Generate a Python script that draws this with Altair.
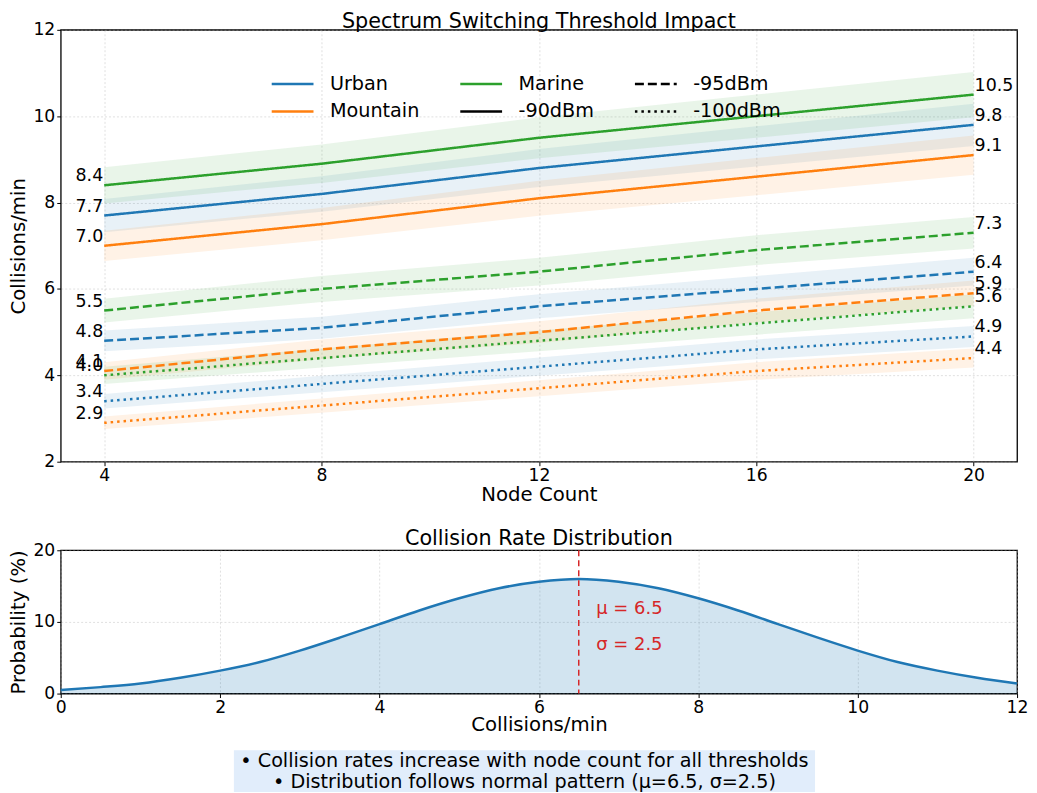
import altair as alt
import pandas as pd

# ---------------- data ----------------
nodes = [4, 8, 12, 16, 20]
environments = ["Urban", "Mountain", "Marine"]
thresholds = ["-90dBm", "-95dBm", "-100dBm"]
env_colors = ["#1f77b4", "#ff7f0e", "#2ca02c"]
threshold_dashes = [[1, 0], [9, 4], [2.5, 4]]

urban_90 = [7.7, 8.2, 8.8, 9.3, 9.8]
urban_95 = [4.8, 5.1, 5.6, 6.0, 6.4]
urban_100 = [3.4, 3.8, 4.2, 4.6, 4.9]
mountain_90 = [7.0, 7.5, 8.1, 8.6, 9.1]
mountain_95 = [4.1, 4.6, 5.0, 5.5, 5.9]
mountain_100 = [2.9, 3.3, 3.7, 4.1, 4.4]
marine_90 = [8.4, 8.9, 9.5, 10.0, 10.5]
marine_95 = [5.5, 6.0, 6.4, 6.9, 7.3]
marine_100 = [4.0, 4.4, 4.8, 5.2, 5.6]
band_fraction = 0.05  # shaded band = +/- 5 % of the value

legend_keys = ["Urban", "Mountain", "Marine", "-90dBm", "-95dBm", "-100dBm"]
legend_colors = ["#1f77b4", "#ff7f0e", "#2ca02c", "black", "black", "black"]
legend_dashes = [[1, 0], [1, 0], [1, 0], [1, 0], [9, 4], [2.5, 4]]

dist_x = [0, 0.5, 1, 1.5, 2, 2.5, 3, 3.5, 4, 4.5, 5, 5.5, 6, 6.5, 7, 7.5,
          8, 8.5, 9, 9.5, 10, 10.5, 11, 11.5, 12]
dist_y = [0.5, 0.9, 1.4, 2.2, 3.2, 4.4, 6.0, 7.8, 9.7, 11.6, 13.3, 14.7, 15.6,
          16.0, 15.6, 14.7, 13.3, 11.6, 9.7, 7.8, 6.0, 4.4, 3.2, 2.2, 1.4]
mu_value = 6.5
sigma_value = 2.5
stat_labels = ["μ = 6.5", "σ = 2.5"]
stat_label_y = [11.8, 6.8]
stat_label_x = [6.72, 6.72]

footer_lines = ["• Collision rates increase with node count for all thresholds",
                "• Distribution follows normal pattern (μ=6.5, σ=2.5)"]

FONT = "DejaVu Sans"

series = {
    ("Urban", "-90dBm"): urban_90, ("Urban", "-95dBm"): urban_95, ("Urban", "-100dBm"): urban_100,
    ("Mountain", "-90dBm"): mountain_90, ("Mountain", "-95dBm"): mountain_95, ("Mountain", "-100dBm"): mountain_100,
    ("Marine", "-90dBm"): marine_90, ("Marine", "-95dBm"): marine_95, ("Marine", "-100dBm"): marine_100,
}
rows = []
for (env, thr), vals in series.items():
    for n, v in zip(nodes, vals):
        rows.append({"env": env, "threshold": thr, "nodes": n, "value": v})
df = pd.DataFrame(rows)

# ---------------- top panel ----------------
x_top = alt.X("nodes:Q", scale=alt.Scale(domain=[3.2, 20.8], nice=False, zero=False),
              axis=alt.Axis(values=nodes, title="Node Count", format="d", labelPadding=1, titlePadding=1))
y_scale_top = alt.Scale(domain=[2, 12], nice=False, zero=False)
y_top = alt.Y("value:Q", scale=y_scale_top,
              axis=alt.Axis(values=[2, 4, 6, 8, 10, 12], title="Collisions/min"))
env_color = alt.Color("env:N", scale=alt.Scale(domain=environments, range=env_colors), legend=None)

base = alt.Chart(df)
bands = base.transform_calculate(
    lo=f"datum.value * (1 - {band_fraction})",
    hi=f"datum.value * (1 + {band_fraction})",
).mark_area(opacity=0.1).encode(
    x=x_top,
    y=alt.Y("lo:Q", scale=y_scale_top),
    y2="hi:Q",
    color=env_color,
    detail="threshold:N",
)
lines = base.mark_line(strokeWidth=2.5).encode(
    x=x_top, y=y_top, color=env_color,
    strokeDash=alt.StrokeDash("threshold:N", scale=alt.Scale(domain=thresholds, range=threshold_dashes), legend=None),
)
start_labels = base.transform_filter("datum.nodes == 4").mark_text(
    align="right", baseline="bottom", fontSize=17.5, font=FONT, color="black", dx=-1
).encode(x=x_top, y=y_top, text=alt.Text("value:Q", format=".1f"))
end_labels = base.transform_filter("datum.nodes == 20").mark_text(
    align="left", baseline="bottom", fontSize=17.5, font=FONT, color="black", dx=1
).encode(x=x_top, y=y_top, text=alt.Text("value:Q", format=".1f"))

legend_opts = dict(title=None, orient="none", legendX=221, legendY=42, columns=3,
                   symbolType="M-2,0L2,0", symbolSize=441, symbolStrokeWidth=2.5,
                   labelFontSize=19.3, labelFont=FONT, labelOffset=25.5,
                   columnPadding=35.5, rowPadding=5, labelColor="black")
legend_layer = alt.Chart(pd.DataFrame({"key": legend_keys})).transform_filter("false").mark_line(
    strokeWidth=2.5
).encode(
    x=alt.value(0), y=alt.value(0),
    color=alt.Color("key:N", scale=alt.Scale(domain=legend_keys, range=legend_colors),
                    legend=alt.Legend(**legend_opts)),
    strokeDash=alt.StrokeDash("key:N", scale=alt.Scale(domain=legend_keys, range=legend_dashes),
                              legend=alt.Legend(**legend_opts)),
)

top = alt.layer(
    alt.layer(bands, lines, start_labels, end_labels),
    legend_layer,
).resolve_scale(color="independent", strokeDash="independent").properties(
    width=961, height=434,
    title=alt.Title("Spectrum Switching Threshold Impact", offset=-12),
)

# ---------------- bottom panel ----------------
dist_df = pd.DataFrame({"x": dist_x, "p": dist_y})
x_bot = alt.X("x:Q", scale=alt.Scale(domain=[0, 12], nice=False),
              axis=alt.Axis(values=[0, 2, 4, 6, 8, 10, 12], format="d", title="Collisions/min",
                            labelPadding=1, titlePadding=-1, labelFlush=False))
y_bot = alt.Y("p:Q", scale=alt.Scale(domain=[0, 20], nice=False),
              axis=alt.Axis(values=[0, 10, 20], title="Probability (%)"))
dist_base = alt.Chart(dist_df)
dist_area = dist_base.mark_area(color="#1f77b4", opacity=0.2, interpolate="monotone").encode(x=x_bot, y=y_bot)
dist_line = dist_base.mark_line(color="#1f77b4", strokeWidth=2.5, interpolate="monotone").encode(x=x_bot, y=y_bot)
mu_rule = alt.Chart(pd.DataFrame({"mu": [mu_value]})).mark_rule(
    color="#d62728", strokeWidth=1.5, strokeDash=[6, 4]
).encode(x=alt.X("mu:Q", scale=alt.Scale(domain=[0, 12], nice=False)))
stat_text = alt.Chart(pd.DataFrame({"label": stat_labels, "x": stat_label_x, "y": stat_label_y})).mark_text(
    align="left", baseline="middle", fontSize=18, font=FONT, color="#d62728"
).encode(x=alt.X("x:Q", scale=alt.Scale(domain=[0, 12], nice=False)),
         y=alt.Y("y:Q", scale=alt.Scale(domain=[0, 20], nice=False)), text="label:N")

bottom = alt.layer(dist_area, dist_line, mu_rule, stat_text).properties(
    width=961, height=144,
    title=alt.Title("Collision Rate Distribution", offset=-9),
)

# ---------------- footer ----------------
footer_df = pd.DataFrame({"line": footer_lines, "row": [0, 1]})
footer_bg = alt.Chart(footer_df).transform_filter("datum.row == 0").mark_rect(color="#e1edfb").encode(
    x=alt.value(174), x2=alt.value(758), y=alt.value(0), y2=alt.value(42)
)
footer_text = alt.Chart(footer_df).mark_text(
    align="center", baseline="middle", fontSize=19.3, font=FONT, color="black"
).encode(
    x=alt.value(466),
    y=alt.Y("row:O", axis=None, scale=alt.Scale(paddingInner=0, paddingOuter=0)),
    text="line:N",
)
footer = alt.layer(footer_bg, footer_text).properties(
    width=961, height=42, view=alt.ViewBackground(stroke="transparent")
)

lower = alt.vconcat(bottom, footer, spacing=14)

chart = alt.vconcat(top, lower, spacing=22).properties(
    padding={"left": 0, "top": 0, "right": 0, "bottom": 0}
).configure(font=FONT).configure_view(
    stroke="black", strokeWidth=1.3
).configure_axis(
    labelFont=FONT, titleFont=FONT, labelFontSize=17.3, titleFontSize=19.8,
    titleFontWeight="normal", labelColor="black", titleColor="black",
    domain=False, tickColor="black", tickSize=4, labelPadding=2, titlePadding=4,
    gridColor="#b0b0b0", gridOpacity=0.5, gridDash=[2, 2], gridWidth=0.8,
).configure_title(
    font=FONT, fontSize=20.8, fontWeight="normal", color="black", anchor="middle"
)

chart.save("out.html", embed_options={"renderer": "svg", "actions": False})
